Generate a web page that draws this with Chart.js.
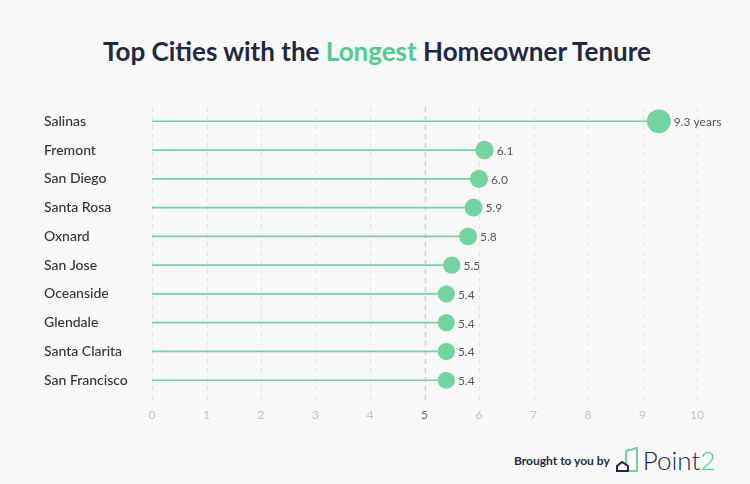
<!DOCTYPE html>
<html>
<head>
<meta charset="utf-8">
<script src="https://cdn.jsdelivr.net/npm/chart.js@4.4.1/dist/chart.umd.min.js"></script>
<style>
    html, body { margin: 0; padding: 0; }
    body { width: 750px; height: 484px; background: #f9f9f9; position: relative; overflow: hidden; font-family: Lato, sans-serif; }
    #title { position: absolute; top: 35px; left: 2px; width: 750px; text-align: center; font-size: 26px; font-weight: bold; color: #1f2944; }
    #title span { color: #4fcd8b; }
    #chartBox { position: absolute; top: 95px; left: 0; width: 750px; height: 334px; }
    #footer { position: absolute; top: 440px; left: 514px; height: 40px; display: flex; align-items: center; }
    #footer .by { font-size: 12px; font-weight: bold; color: #1f2944; margin-right: 6px; }
    #footer .brand { font-size: 26px; color: #1f2944; font-weight: 300; margin-left: 1px; }
    #footer .brand span { color: #4fcd8b; }
</style>
</head>
<body>
<div id="title">Top Cities with the <span>Longest</span> Homeowner Tenure</div>
<div id="chartBox"><canvas id="tenureChart"></canvas></div>
<div id="footer">
    <span class="by">Brought to you by</span>
    <svg width="26" height="26" viewBox="0 0 26 26">
        <path d="M10 4 L21 1 L21 24 L10 24 Z" fill="none" stroke="#6fd3a0" stroke-width="2"/>
        <path d="M1 24 L1 19 L6 15 L12 19 L12 24 Z" fill="#f9f9f9" stroke="#1f2944" stroke-width="2"/>
    </svg>
    <span class="brand">Point<span>2</span></span>
</div>
<script>
    const cities = ['Salinas', 'Fremont', 'San Diego', 'Santa Rosa', 'Oxnard', 'San Jose', 'Oceanside', 'Glendale', 'Santa Clarita', 'San Francisco'];
    const tenureYears = [9.3, 6.1, 6.0, 5.9, 5.8, 5.5, 5.4, 5.4, 5.4, 5.4];
    const xTicks = [0, 1, 2, 3, 4, 5, 6, 7, 8, 9, 10];

    const green = '#72d4a0';

    // dashed vertical grid, 5 is a bit darker
    const dashedGrid = {
        id: 'dashedGrid',
        beforeDatasetsDraw(chart) {
            const ctx = chart.ctx;
            const x = chart.scales.x;
            const area = chart.chartArea;
            ctx.save();
            ctx.setLineDash([5, 4]);
            x.ticks.forEach(t => {
                const px = Math.round(x.getPixelForValue(t.value)) + 0.5;
                ctx.strokeStyle = t.value === 5 ? '#d2d2d2' : '#e4e4e4';
                ctx.lineWidth = t.value === 5 ? 1.5 : 1;
                ctx.beginPath();
                ctx.moveTo(px, area.top);
                ctx.lineTo(px, area.bottom + 6);
                ctx.stroke();
            });
            ctx.restore();
        }
    };

    // value labels next to each dot
    const valueLabels = {
        id: 'valueLabels',
        afterDatasetsDraw(chart) {
            const ctx = chart.ctx;
            const meta = chart.getDatasetMeta(1);
            ctx.save();
            ctx.font = '12px Lato';
            ctx.fillStyle = '#555';
            ctx.textBaseline = 'middle';
            meta.data.forEach((pt, i) => {
                const v = tenureYears[i];
                const text = i === 0 ? v.toFixed(1) + ' years' : v.toFixed(1);
                const r = pt.options.radius;
                ctx.fillText(text, pt.x + r + 3, pt.y + 1);
            });
            ctx.restore();
        }
    };

    new Chart(document.getElementById('tenureChart'), {
        type: 'bar',
        data: {
            labels: cities,
            datasets: [{
                data: tenureYears,
                backgroundColor: green,
                barThickness: 1,
                order: 2
            }, {
                type: 'line',
                data: tenureYears,
                showLine: false,
                pointBackgroundColor: green,
                pointBorderWidth: 0,
                pointRadius: c => 4 + c.raw * 0.85,
                order: 1
            }]
        },
        options: {
            indexAxis: 'y',
            responsive: true,
            maintainAspectRatio: false,
            animation: false,
            layout: { padding: { left: 44, right: 53, top: 2, bottom: 0 } },
            plugins: { legend: { display: false }, tooltip: { enabled: false } },
            scales: {
                x: {
                    min: 0,
                    max: 10,
                    afterBuildTicks: s => { s.ticks = xTicks.map(v => ({ value: v })); },
                    border: { display: false },
                    grid: { display: false, drawTicks: true, tickLength: 6 },
                    ticks: {
                        font: { family: 'Lato', size: 12 },
                        color: c => c.tick.value === 5 ? '#666' : '#c4c4c4',
                        padding: 7
                    }
                },
                y: {
                    afterFit: s => { s.width = 108; },
                    grid: { display: false },
                    border: { display: false },
                    ticks: {
                        crossAlign: 'far',
                        font: { family: 'Lato', size: 14, weight: '500' },
                        color: '#333'
                    }
                }
            }
        },
        plugins: [dashedGrid, valueLabels]
    });
</script>
</body>
</html>
